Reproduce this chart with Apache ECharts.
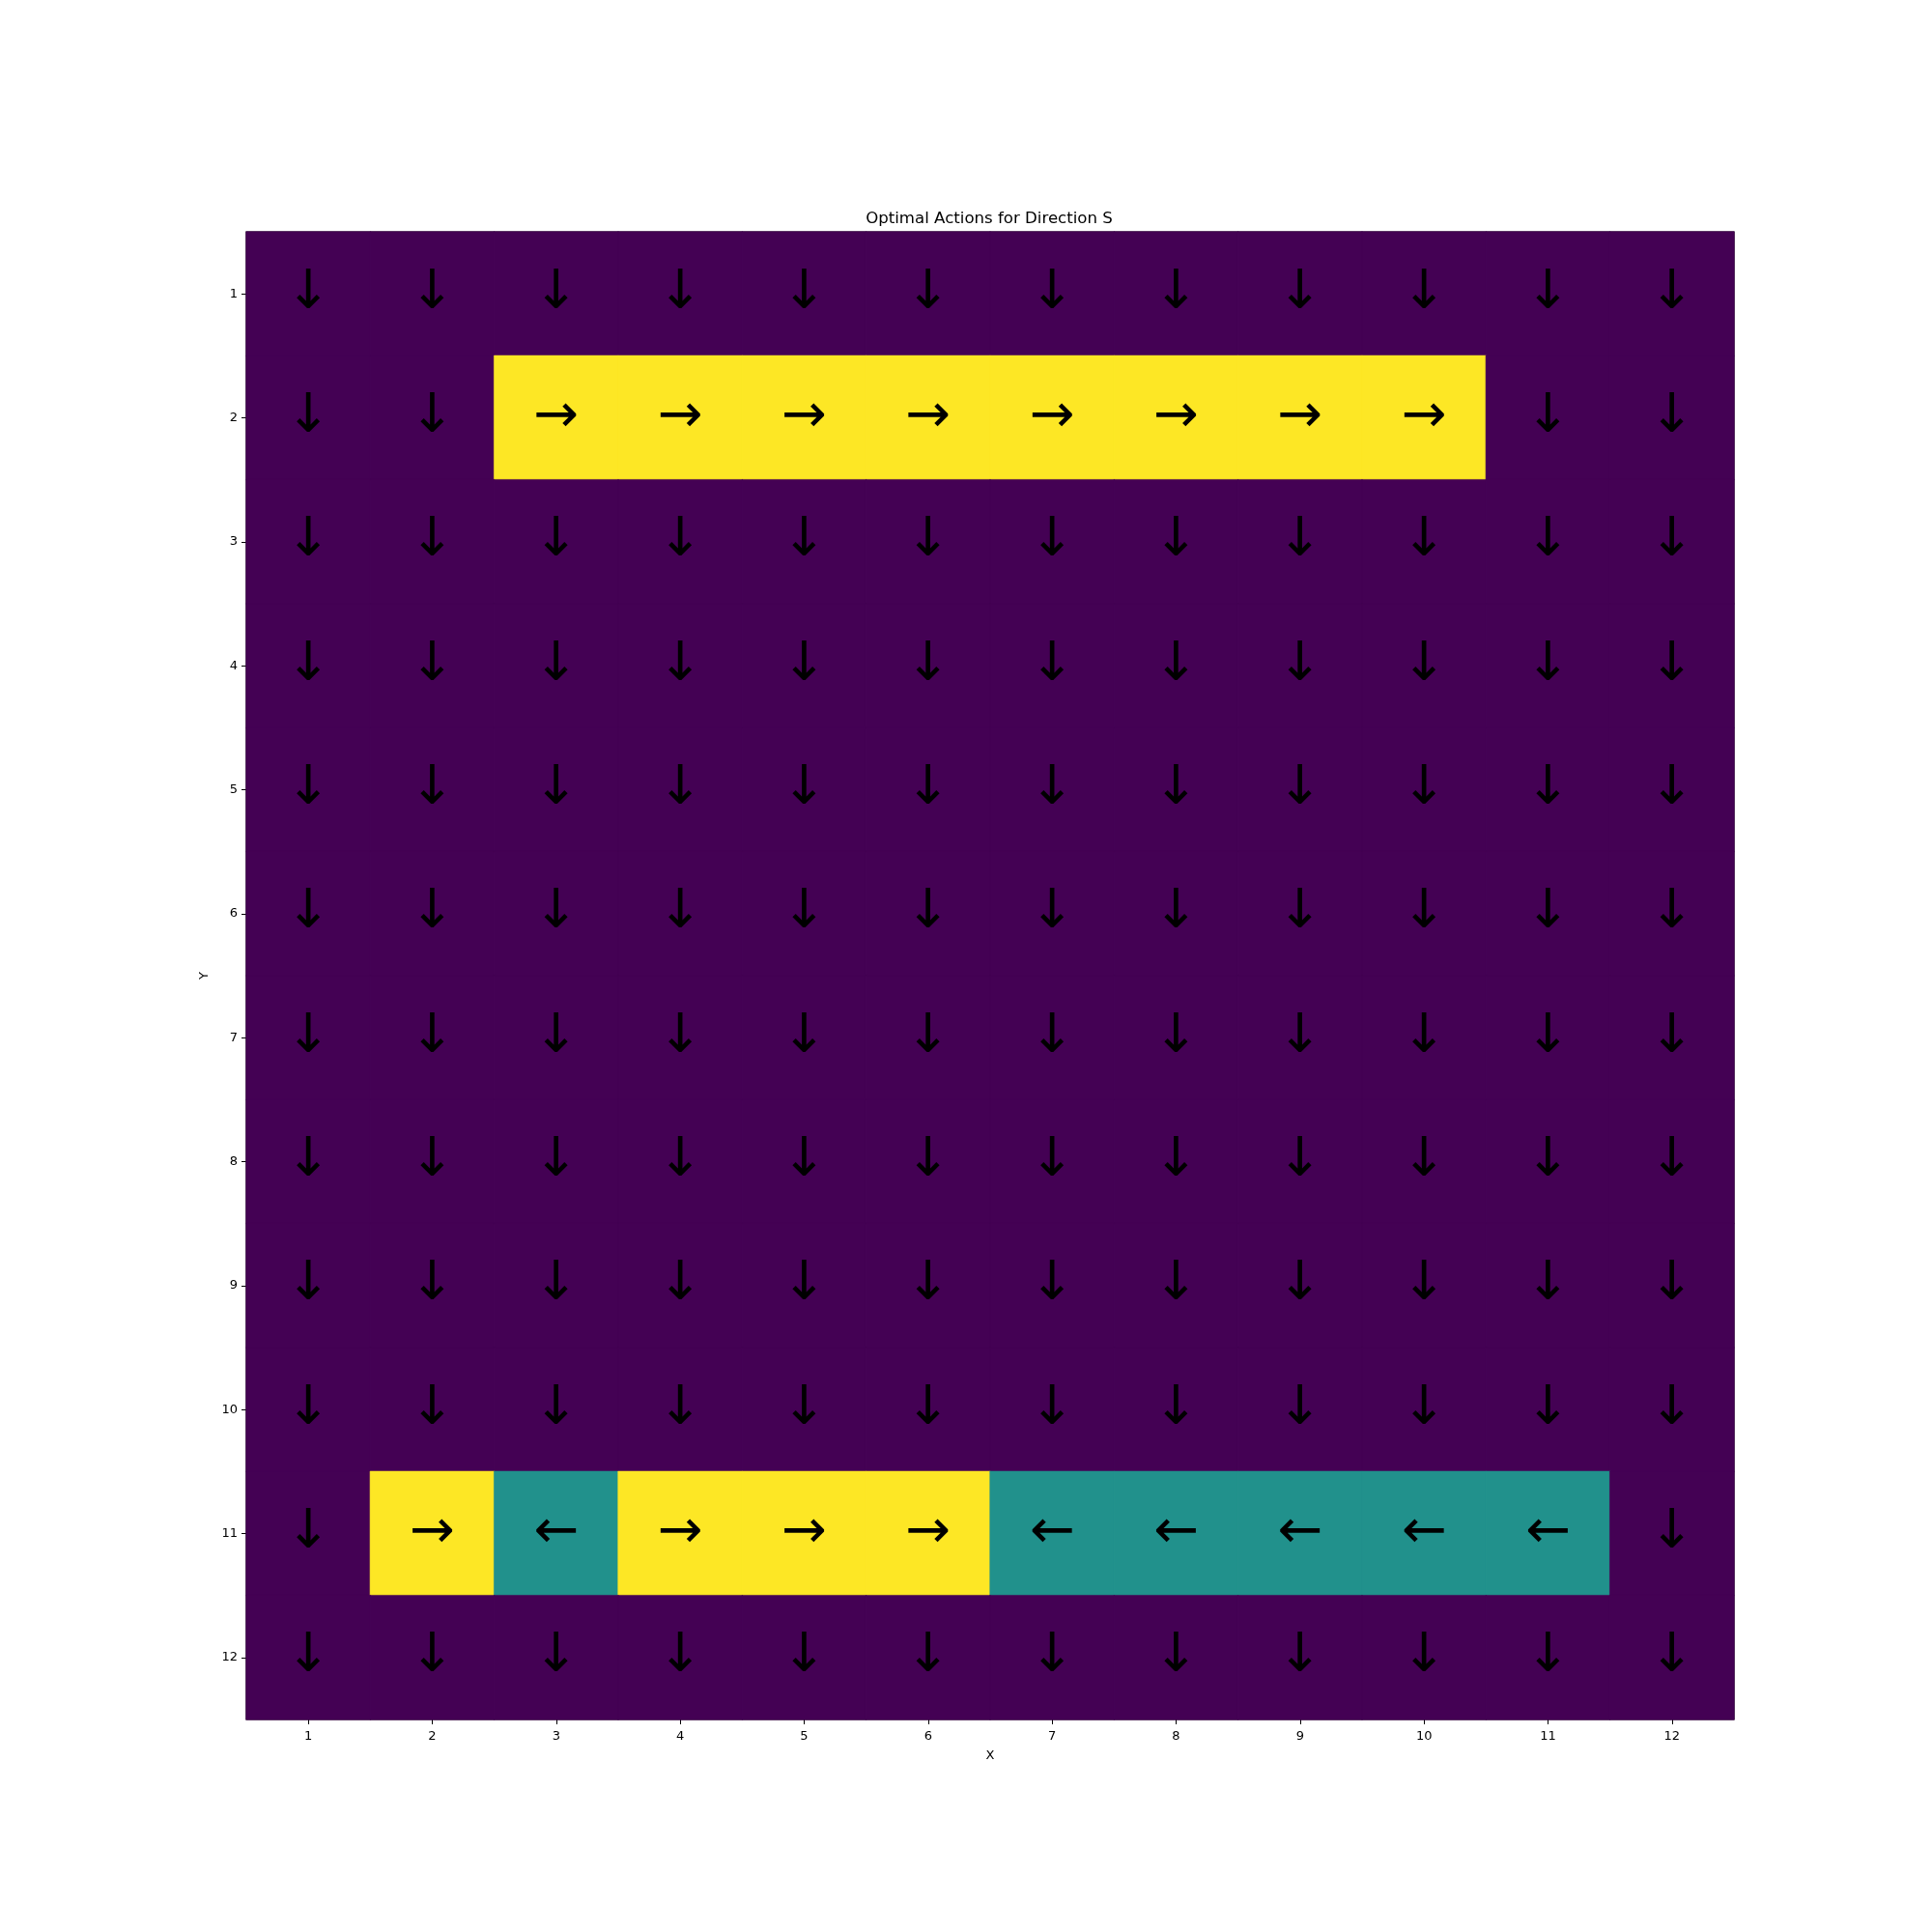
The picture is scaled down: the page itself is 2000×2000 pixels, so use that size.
<!DOCTYPE html>
<html>
<head>
<meta charset="utf-8">
<script src="https://cdn.jsdelivr.net/npm/echarts@6/dist/echarts.min.js"></script>
<style>
  html, body { margin: 0; padding: 0; background: #fff; }
  #chart { width: 2000px; height: 2000px; }
</style>
</head>
<body>
<div id="chart"></div>
<script>
// 坐标刻度
var xLabels = ['1', '2', '3', '4', '5', '6', '7', '8', '9', '10', '11', '12'];
var yLabels = ['1', '2', '3', '4', '5', '6', '7', '8', '9', '10', '11', '12'];

// 动作编码: S=向下, W=向左, E=向右
var actionCodes = ['S', 'W', 'E'];
var actionArrows = ['↓', '←', '→'];
var actionColors = ['#440154', '#21918c', '#fde725'];

// 每行的最优动作 (行 = Y, 列 = X)
var gridActions = [
  'SSSSSSSSSSSS',
  'SSEEEEEEEESS',
  'SSSSSSSSSSSS',
  'SSSSSSSSSSSS',
  'SSSSSSSSSSSS',
  'SSSSSSSSSSSS',
  'SSSSSSSSSSSS',
  'SSSSSSSSSSSS',
  'SSSSSSSSSSSS',
  'SSSSSSSSSSSS',
  'SEWEEEWWWWWS',
  'SSSSSSSSSSSS'
];

// 组装热力图数据, 单元格边框与填充同色以消除缝隙
var data = [];
for (var r = 0; r < gridActions.length; r++) {
  for (var c = 0; c < gridActions[r].length; c++) {
    var k = actionCodes.indexOf(gridActions[r].charAt(c));
    data.push({
      value: [c, r, k],
      itemStyle: { color: actionColors[k], borderColor: actionColors[k], borderWidth: 0.6 }
    });
  }
}

var myChart = echarts.init(document.getElementById('chart'));

var font = 'DejaVu Sans';
var option = {
  animation: false,
  backgroundColor: '#fff',
  textStyle: { fontFamily: font },
  title: {
    text: 'Optimal Actions for Direction S',
    left: 1019,
    textAlign: 'center',
    top: 213,
    textStyle: { fontFamily: font, fontSize: 16.6, fontWeight: 'normal', color: '#000' }
  },
  grid: {
    left: 255, top: 240, width: 1540, height: 1540,
    show: true, borderColor: '#000', borderWidth: 1.2, backgroundColor: 'transparent'
  },
  xAxis: {
    type: 'category',
    data: xLabels,
    name: 'X',
    nameLocation: 'middle',
    nameGap: 31,
    nameTextStyle: { fontFamily: font, fontSize: 13, color: '#000' },
    axisLine: { show: false },
    axisTick: { show: true, alignWithLabel: true, length: 5, lineStyle: { color: '#000' } },
    axisLabel: { fontFamily: font, fontSize: 13, color: '#000', margin: 11 },
    splitLine: { show: false }
  },
  yAxis: {
    type: 'category',
    data: yLabels,
    inverse: true,
    name: 'Y',
    nameLocation: 'middle',
    nameGap: 35,
    nameTextStyle: { fontFamily: font, fontSize: 13, color: '#000' },
    axisLine: { show: false },
    axisTick: { show: true, alignWithLabel: true, length: 5, lineStyle: { color: '#000' } },
    axisLabel: { fontFamily: font, fontSize: 13, color: '#000', margin: 9 },
    splitLine: { show: false }
  },
  series: [{
    type: 'heatmap',
    data: data,
    label: {
      show: true,
      fontFamily: font,
      fontSize: 56,
      color: '#000',
      formatter: function (p) { return actionArrows[p.value[2]]; }
    },
    emphasis: { disabled: true }
  }]
};
myChart.setOption(option);
</script>
</body>
</html>
